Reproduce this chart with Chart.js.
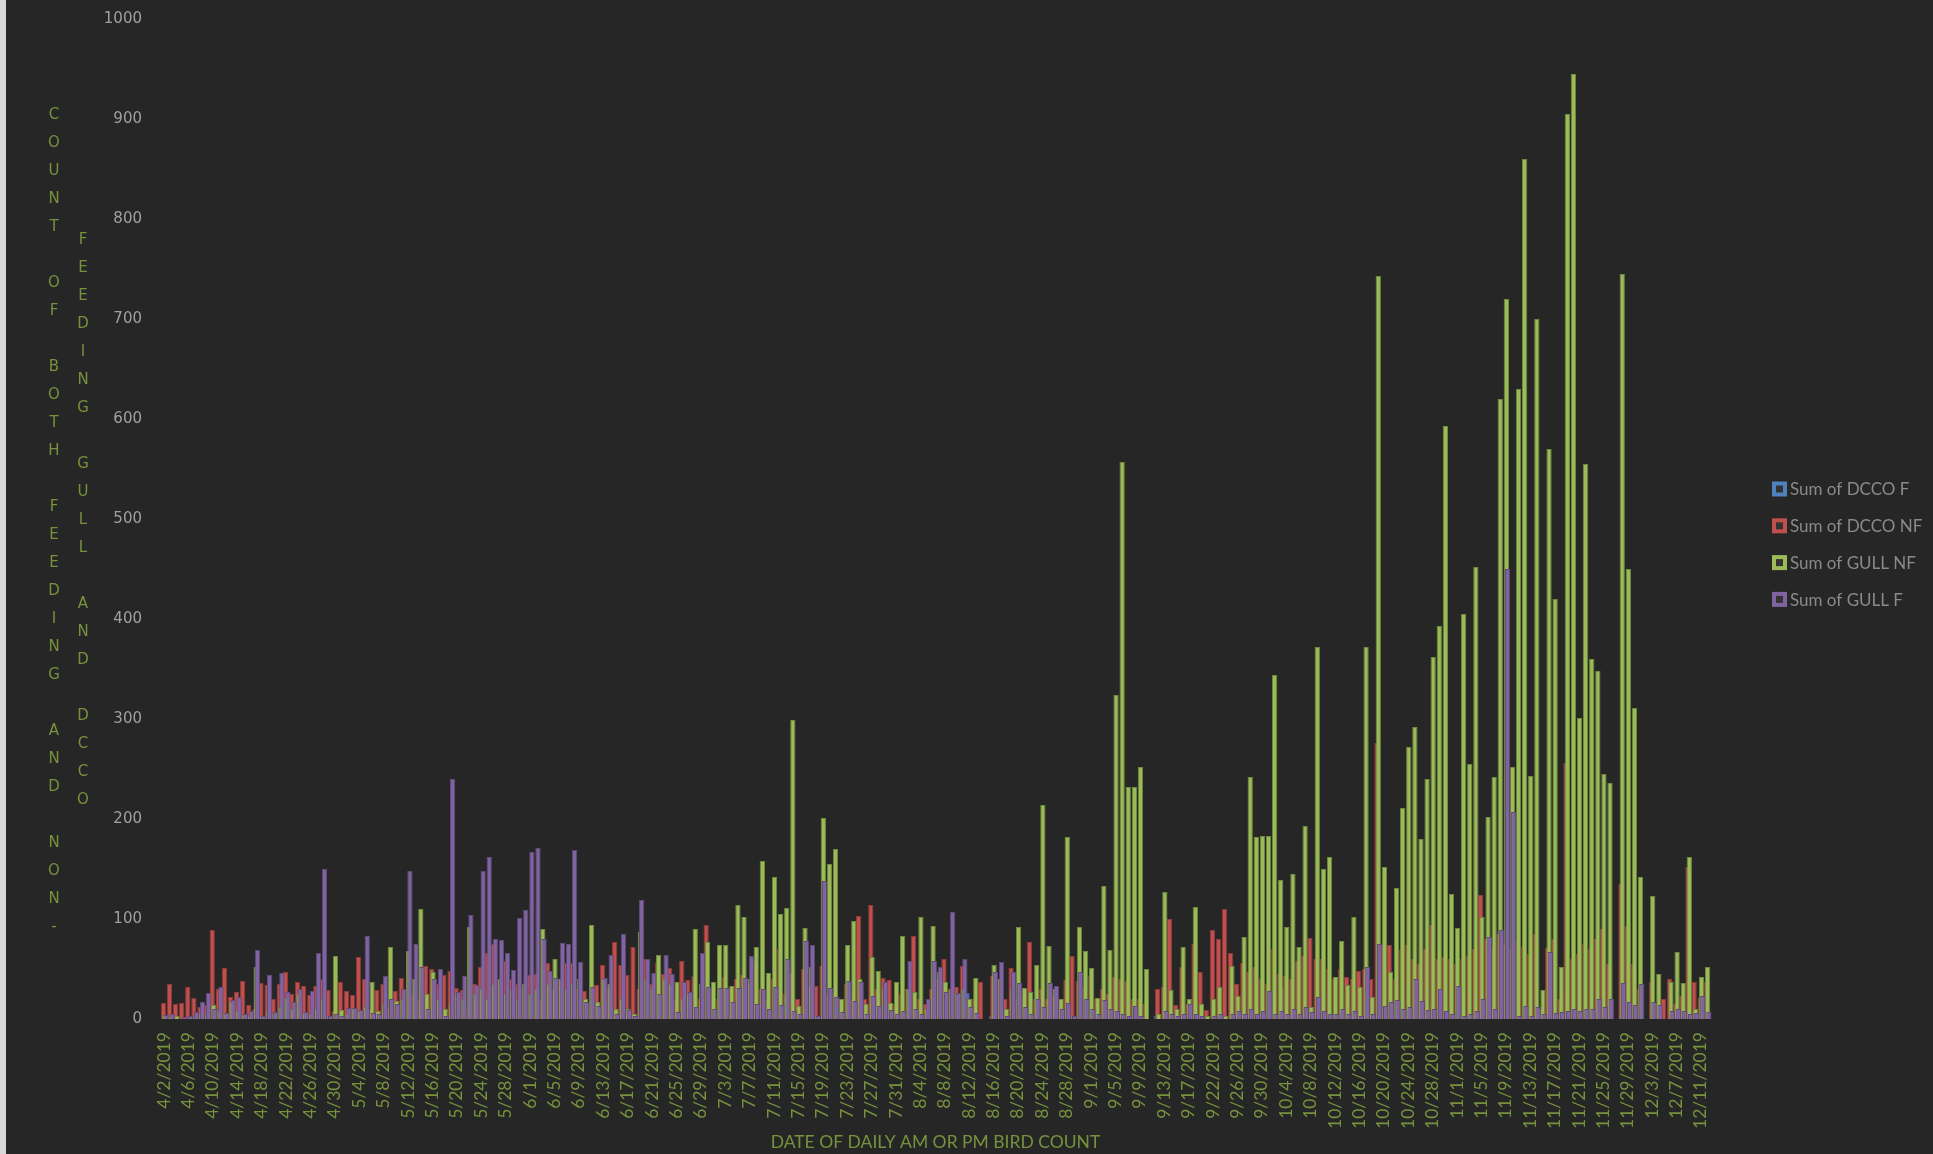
<!DOCTYPE html>
<html>
<head>
<meta charset="utf-8">
<title>Feeding and non-feeding gull and DCCO counts</title>
<script src="https://cdn.jsdelivr.net/npm/chart.js@4.4.1/dist/chart.umd.min.js"></script>
<style>
  html, body { margin: 0; padding: 0; background: #d9d9d9; overflow: hidden; }
  #wrap { position: absolute; left: 6px; top: 0; width: 1927px; height: 1154px; background: #262626; }
</style>
</head>
<body>
<div id="wrap"><canvas id="chart"></canvas></div>
<script>
// one category per count date (9/20 has no row in the pivot)
const dates = [
  '4/2/2019','4/3/2019','4/4/2019','4/5/2019','4/6/2019','4/7/2019','4/8/2019','4/9/2019','4/10/2019','4/11/2019',
  '4/12/2019','4/13/2019','4/14/2019','4/15/2019','4/16/2019','4/17/2019','4/18/2019','4/19/2019','4/20/2019','4/21/2019',
  '4/22/2019','4/23/2019','4/24/2019','4/25/2019','4/26/2019','4/27/2019','4/28/2019','4/29/2019','4/30/2019',
  '5/1/2019','5/2/2019','5/3/2019','5/4/2019','5/5/2019','5/6/2019','5/7/2019','5/8/2019','5/9/2019','5/10/2019',
  '5/11/2019','5/12/2019','5/13/2019','5/14/2019','5/15/2019','5/16/2019','5/17/2019','5/18/2019','5/19/2019','5/20/2019',
  '5/21/2019','5/22/2019','5/23/2019','5/24/2019','5/25/2019','5/26/2019','5/27/2019','5/28/2019','5/29/2019','5/30/2019','5/31/2019',
  '6/1/2019','6/2/2019','6/3/2019','6/4/2019','6/5/2019','6/6/2019','6/7/2019','6/8/2019','6/9/2019','6/10/2019',
  '6/11/2019','6/12/2019','6/13/2019','6/14/2019','6/15/2019','6/16/2019','6/17/2019','6/18/2019','6/19/2019','6/20/2019',
  '6/21/2019','6/22/2019','6/23/2019','6/24/2019','6/25/2019','6/26/2019','6/27/2019','6/28/2019','6/29/2019','6/30/2019',
  '7/1/2019','7/2/2019','7/3/2019','7/4/2019','7/5/2019','7/6/2019','7/7/2019','7/8/2019','7/9/2019','7/10/2019',
  '7/11/2019','7/12/2019','7/13/2019','7/14/2019','7/15/2019','7/16/2019','7/17/2019','7/18/2019','7/19/2019','7/20/2019',
  '7/21/2019','7/22/2019','7/23/2019','7/24/2019','7/25/2019','7/26/2019','7/27/2019','7/28/2019','7/29/2019','7/30/2019','7/31/2019',
  '8/1/2019','8/2/2019','8/3/2019','8/4/2019','8/5/2019','8/6/2019','8/7/2019','8/8/2019','8/9/2019','8/10/2019',
  '8/11/2019','8/12/2019','8/13/2019','8/14/2019','8/15/2019','8/16/2019','8/17/2019','8/18/2019','8/19/2019','8/20/2019',
  '8/21/2019','8/22/2019','8/23/2019','8/24/2019','8/25/2019','8/26/2019','8/27/2019','8/28/2019','8/29/2019','8/30/2019','8/31/2019',
  '9/1/2019','9/2/2019','9/3/2019','9/4/2019','9/5/2019','9/6/2019','9/7/2019','9/8/2019','9/9/2019','9/10/2019',
  '9/11/2019','9/12/2019','9/13/2019','9/14/2019','9/15/2019','9/16/2019','9/17/2019','9/18/2019','9/19/2019',
  '9/21/2019','9/22/2019','9/23/2019','9/24/2019','9/25/2019','9/26/2019','9/27/2019','9/28/2019','9/29/2019','9/30/2019',
  '10/1/2019','10/2/2019','10/3/2019','10/4/2019','10/5/2019','10/6/2019','10/7/2019','10/8/2019','10/9/2019','10/10/2019',
  '10/11/2019','10/12/2019','10/13/2019','10/14/2019','10/15/2019','10/16/2019','10/17/2019','10/18/2019','10/19/2019','10/20/2019',
  '10/21/2019','10/22/2019','10/23/2019','10/24/2019','10/25/2019','10/26/2019','10/27/2019','10/28/2019','10/29/2019','10/30/2019','10/31/2019',
  '11/1/2019','11/2/2019','11/3/2019','11/4/2019','11/5/2019','11/6/2019','11/7/2019','11/8/2019','11/9/2019','11/10/2019',
  '11/11/2019','11/12/2019','11/13/2019','11/14/2019','11/15/2019','11/16/2019','11/17/2019','11/18/2019','11/19/2019','11/20/2019',
  '11/21/2019','11/22/2019','11/23/2019','11/24/2019','11/25/2019','11/26/2019','11/27/2019','11/28/2019','11/29/2019','11/30/2019',
  '12/1/2019','12/2/2019','12/3/2019','12/4/2019','12/5/2019','12/6/2019','12/7/2019','12/8/2019','12/9/2019','12/10/2019',
  '12/11/2019','12/12/2019'
];

const dccoF = [
  0,0,0,0,0,0,0,0,0,0, 0,0,0,0,0,0,0,0,0,0, 0,0,0,0,0,0,0,0,0,0,
  0,0,0,0,0,0,0,0,0,0, 0,0,0,0,0,0,0,0,0,0, 0,0,0,0,0,0,0,0,0,0,
  0,0,0,0,0,0,0,0,0,0, 0,0,0,0,0,0,0,0,0,0, 0,0,0,0,0,0,0,0,0,0,
  0,0,0,0,0,0,0,0,0,0, 0,0,0,0,0,0,0,0,0,0, 0,0,0,0,0,0,0,0,0,0,
  0,0,0,0,0,0,0,0,0,0,
  0,0,26,0,0,null,3,0,0,0, 0,0,0,0,0,0,0,0,0,0, 0,0,0,0,0,0,0,0,0,0,
  0,0,null,3,0,0,0,0,0,0, 0,0,0,0,8,0,0,0,0,0, 0,0,0,0,30,0,0,0,0,0,
  0,0,0,0,0,0,0,0,0,0, 0,0,0,0,0,0,0,0,0,0, 0,0,0,0,0,0,0,0,0,0,
  0,0,0,0,0,0,0,0,null,0, 0,0,0,null,5,0,6,0,0,0, 0,0,0,0
];

const dccoNF = [
  16,35,15,16,32,21,12,14,89,30, 51,22,27,38,14,10,36,34,20,35, 47,25,37,33,24,33,40,29,8,37,
  28,24,62,40,10,29,35,12,28,41, 30,25,20,53,50,35,44,48,31,29, 10,35,52,66,75,40,58,40,35,30,
  44,45,20,56,30,39,56,56,30,28, 15,34,54,30,77,54,44,72,30,60, 35,56,45,51,20,58,39,43,20,94,
  30,20,42,30,40,44,35,58,30,20, 40,70,25,46,20,50,33,33,53,25, 26,20,35,20,103,20,114,30,41,39,
  15,25,30,83,20,15,30,40,60,30,
  32,53,18,20,37,null,43,40,20,51, 20,25,77,20,30,20,24,20,39,63, 38,30,43,20,30,25,42,40,38,20,
  20,15,null,30,32,100,14,52,15,75, 47,9,89,80,110,66,35,56,47,52, 40,35,70,45,43,40,58,63,81,60,
  60,50,40,50,42,40,48,50,40,276, 74,74,40,69,74,60,55,70,94,60, 62,60,55,60,63,70,124,80,70,85,
  75,70,80,72,65,85,10,71,80,20, 256,60,65,75,70,80,90,55,null,135, 93,55,30,null,37,15,20,40,15,23,
  152,37,21,37
];

const gullNF = [
  4,2,3,0,0,2,5,5,14,8, 5,17,8,4,3,52,3,8,5,12, 21,10,25,6,5,10,20,3,63,9,
  5,10,8,12,37,8,15,72,18,20, 68,40,110,25,47,20,10,15,25,20, 92,25,30,20,35,40,25,30,20,35,
  25,30,90,35,60,40,30,35,40,20, 94,17,40,35,10,20,10,5,87,40, 30,64,40,35,37,20,25,90,35,77,
  37,74,74,33,114,102,40,72,158,46, 142,105,111,299,13,91,52,3,201,155, 170,20,74,98,40,15,62,48,30,16,
  37,83,30,27,102,10,93,47,37,30,
  25,30,20,41,0,null,54,40,10,30, 92,31,27,54,214,73,30,20,182,3, 92,68,51,21,133,69,324,557,232,232,
  252,50,null,5,127,29,10,72,20,112, 15,3,20,32,3,53,23,82,242,182, 183,183,344,139,92,145,72,193,12,372,
  150,162,42,78,34,102,32,372,22,743, 152,47,131,211,272,292,180,240,362,393, 593,125,91,405,255,452,102,202,242,620,
  720,252,630,860,243,700,29,570,420,52, 905,945,301,555,360,348,245,236,null,745, 450,311,142,null,123,45,0,37,67,36,
  162,10,42,52
];

const gullF = [
  4,5,0,2,3,7,17,26,10,32, 6,19,22,5,8,69,3,44,7,46, 27,17,30,7,28,66,150,3,5,3,
  11,11,9,83,6,5,43,20,15,30, 148,75,52,10,40,50,3,240,27,43, 104,34,148,162,80,79,66,49,101,109,
  167,171,80,48,41,76,75,169,57,17, 32,13,41,64,5,85,9,3,119,60, 46,25,64,45,7,37,27,12,66,32,
  10,31,31,17,31,41,63,15,30,10, 32,14,60,8,5,78,74,3,138,31, 22,7,38,18,37,5,23,13,37,9,
  5,8,58,10,5,20,58,52,27,107,
  26,60,12,6,0,null,47,57,3,47, 36,12,5,20,12,36,33,10,16,3, 47,20,10,5,19,10,8,5,3,13,
  3,0,null,0,8,5,3,5,15,5, 3,0,3,5,0,5,8,5,10,5, 8,28,5,8,5,10,5,12,7,22,
  8,5,5,10,5,8,3,52,5,75, 13,17,19,10,12,40,18,9,10,30, 8,5,33,3,5,8,20,82,10,89,
  450,207,3,13,3,12,5,67,6,7, 8,10,8,10,10,20,12,20,null,36, 17,14,35,null,17,14,0,8,10,8,
  5,6,23,7
];

const yTitleColumns = ['COUNT OF BOTH FEEDING AND NON-', 'FEEDING GULL AND DCCO'];
const xTitle = 'DATE OF DAILY AM OR PM BIRD COUNT';

const green = '#76923C';

// Excel draws later series on top; chart.js does the reverse, so draw them ourselves
const drawOrder = {
  id: 'drawOrder',
  beforeDatasetsDraw(chart) {
    const metas = chart.getSortedVisibleDatasetMetas();
    for (let i = 0; i < metas.length; i++) {
      metas[i].controller.draw();
    }
    return false;
  }
};

// stacked (one letter per line) axis title, wrapped into two columns
const stackedTitle = {
  id: 'stackedTitle',
  afterDraw(chart) {
    const ctx = chart.ctx;
    const xs = [48, 77];
    const tops = [115, 240];
    ctx.save();
    ctx.fillStyle = green;
    ctx.font = '15px "DejaVu Sans"';
    ctx.textAlign = 'center';
    ctx.textBaseline = 'middle';
    yTitleColumns.forEach((col, c) => {
      Array.from(col).forEach((ch, k) => {
        if (ch !== ' ') ctx.fillText(ch, xs[c], tops[c] + k * 28);
      });
    });
    ctx.restore();
  }
};

const sideLegend = {
  id: 'sideLegend',
  afterDraw(chart) {
    const ctx = chart.ctx;
    const left = chart.chartArea.right + 62;
    ctx.save();
    ctx.font = '17px Lato';
    ctx.textBaseline = 'middle';
    chart.data.datasets.forEach((ds, i) => {
      const y = 489 + i * 36.8;
      ctx.fillStyle = ds.backgroundColor;
      ctx.fillRect(left, y - 7.5, 15, 15);
      ctx.fillStyle = '#333333';
      ctx.fillRect(left + 4, y - 3.5, 7, 7);
      ctx.fillStyle = '#8a8a8a';
      ctx.fillText(ds.label, left + 18, y + 1);
    });
    ctx.restore();
  }
};

new Chart(document.getElementById('chart'), {
  type: 'bar',
  data: {
    labels: dates,
    datasets: [
      { label: 'Sum of DCCO F', data: dccoF, backgroundColor: '#4F81BD', borderColor: '#3A5F8B' },
      { label: 'Sum of DCCO NF', data: dccoNF, backgroundColor: '#C0504D', borderColor: '#8E3B39' },
      { label: 'Sum of GULL NF', data: gullNF, backgroundColor: '#9BBB59', borderColor: '#6F8A3C' },
      { label: 'Sum of GULL F', data: gullF, backgroundColor: '#8064A2', borderColor: '#5F4A78' }
    ]
  },
  options: {
    responsive: true,
    maintainAspectRatio: false,
    animation: false,
    events: [],
    datasets: {
      bar: { categoryPercentage: 0.85, barPercentage: 4.1, borderWidth: 1 }
    },
    layout: { padding: { left: 98, right: 223, top: 19, bottom: 0 } },
    plugins: {
      legend: { display: false },
      tooltip: { enabled: false }
    },
    scales: {
      x: {
        afterFit(scale) { scale.height = 135; },
        grid: { display: false, drawTicks: false },
        border: { display: false },
        ticks: {
          autoSkip: false,
          minRotation: 90,
          maxRotation: 90,
          padding: 13,
          color: green,
          font: { family: 'Lato', size: 17.5 },
          callback: function (value, index) {
            return index % 4 === 0 ? this.getLabelForValue(value) : '';
          }
        },
        title: {
          display: true,
          text: xTitle,
          color: green,
          font: { family: 'Lato', size: 17.5 },
          padding: { top: 4, bottom: 1 }
        }
      },
      y: {
        min: 0,
        max: 1000,
        afterFit(scale) {
          scale.width = 57;
          scale.paddingTop = 0;
          scale.paddingBottom = 0;
        },
        grid: { display: false, drawTicks: false },
        border: { display: false },
        ticks: {
          stepSize: 100,
          padding: 19,
          color: '#a0a0a0',
          font: { family: 'DejaVu Sans', size: 15 },
          callback: (value) => String(value)
        }
      }
    }
  },
  plugins: [drawOrder, stackedTitle, sideLegend]
});
</script>
</body>
</html>
